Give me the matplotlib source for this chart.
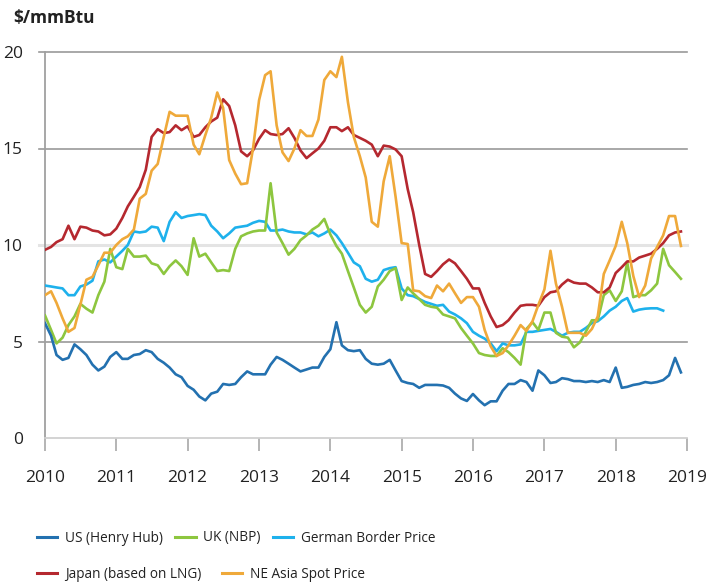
import numpy as np
import pandas as pd
import matplotlib as mpl
mpl.use("Agg")
import matplotlib.pyplot as plt
import matplotlib.dates as mdates
from matplotlib.lines import Line2D

mpl.rcParams['font.family'] = ['Open Sans', 'DejaVu Sans']

# monthly, Jan 2010 - Dec 2018, $/mmBtu
months = pd.date_range("2010-01-01", periods=108, freq="MS")

us_henry_hub = [
    5.95, 5.3, 4.3, 4.05, 4.15, 4.85, 4.6, 4.3, 3.8, 3.5, 3.7, 4.2,
    4.45, 4.1, 4.1, 4.3, 4.35, 4.55, 4.45, 4.1, 3.9, 3.65, 3.3, 3.15,
    2.7, 2.5, 2.15, 1.95, 2.3, 2.4, 2.8, 2.75, 2.8, 3.15, 3.45, 3.3,
    3.3, 3.3, 3.8, 4.2, 4.05, 3.85, 3.65, 3.45, 3.55, 3.65, 3.65, 4.2,
    4.6, 6.0, 4.8, 4.55, 4.5, 4.55, 4.1, 3.85, 3.8, 3.85, 4.05, 3.5,
    2.95, 2.85, 2.8, 2.6, 2.75, 2.75, 2.75, 2.72, 2.6, 2.3, 2.05, 1.92,
    2.28, 1.95, 1.7, 1.9, 1.9, 2.45, 2.8, 2.8, 3.0, 2.9, 2.45, 3.5,
    3.25, 2.85, 2.9, 3.1, 3.05, 2.95, 2.95, 2.9, 2.95, 2.9, 3.0, 2.9,
    3.65, 2.6, 2.65, 2.75, 2.8, 2.9, 2.85, 2.9, 3.0, 3.25, 4.15, 3.4,
]

uk_nbp = [
    6.35, 5.6, 4.9, 5.2, 5.85, 6.3, 6.95, 6.7, 6.5, 7.4, 8.1, 9.8,
    8.85, 8.75, 9.8, 9.4, 9.4, 9.45, 9.05, 8.95, 8.5, 8.9, 9.2, 8.9,
    8.45, 10.35, 9.4, 9.55, 9.1, 8.65, 8.7, 8.65, 9.8, 10.45, 10.6, 10.7,
    10.75, 10.75, 13.2, 10.65, 10.1, 9.5, 9.8, 10.25, 10.5, 10.8, 11.0, 11.35,
    10.55, 9.95, 9.55, 8.65, 7.8, 6.9, 6.5, 6.8, 7.85, 8.2, 8.65, 8.8,
    7.15, 7.8, 7.5, 7.2, 6.9, 6.8, 6.75, 6.4, 6.3, 6.2, 5.7, 5.3,
    4.9, 4.4, 4.3, 4.25, 4.25, 4.65, 4.45, 4.15, 3.8, 5.65, 6.0, 5.6,
    6.5, 6.5, 5.45, 5.25, 5.2, 4.7, 4.95, 5.5, 6.1, 6.1, 7.4, 7.65,
    7.1, 7.6, 9.1, 7.3, 7.4, 7.4, 7.65, 8.0, 9.8, 8.95, 8.6, 8.25,
]

german_border = [
    7.9, 7.85, 7.8, 7.75, 7.4, 7.4, 7.85, 7.95, 8.15, 9.15, 9.25, 9.1,
    9.4, 9.7, 10.0, 10.7, 10.65, 10.7, 10.95, 10.9, 10.2, 11.2, 11.7, 11.4,
    11.5, 11.55, 11.6, 11.55, 11.0, 10.7, 10.35, 10.6, 10.9, 10.95, 11.0, 11.15,
    11.25, 11.2, 10.75, 10.75, 10.8, 10.7, 10.65, 10.65, 10.55, 10.65, 10.45, 10.6,
    10.8, 10.5, 10.1, 9.6, 9.1, 8.9, 8.25, 8.1, 8.2, 8.7, 8.8, 8.85,
    7.75, 7.4, 7.35, 7.2, 7.05, 6.95, 6.85, 6.9, 6.55, 6.4, 6.2, 5.95,
    5.5, 5.3, 5.15, 4.9, 4.5, 4.9, 4.8, 4.8, 4.85, 5.5, 5.5, 5.55,
    5.6, 5.65, 5.5, 5.3, 5.45, 5.5, 5.5, 5.7, 5.95, 6.05, 6.3, 6.6,
    6.8, 7.1, 7.25, 6.55, 6.65, 6.7, 6.72, 6.72, 6.6, np.nan, np.nan, np.nan,
]

japan_lng = [
    9.75, 9.9, 10.15, 10.3, 11.0, 10.3, 10.95, 10.9, 10.75, 10.7, 10.5, 10.55,
    10.85, 11.4, 12.0, 12.5, 13.0, 13.9, 15.6, 16.0, 15.8, 15.85, 16.2, 15.95,
    16.15, 15.6, 15.7, 16.1, 16.4, 16.6, 17.55, 17.2, 16.2, 14.85, 14.6, 14.9,
    15.5, 15.95, 15.75, 15.7, 15.75, 16.05, 15.55, 14.9, 14.5, 14.75, 15.0, 15.4,
    16.1, 16.1, 15.9, 16.1, 15.7, 15.55, 15.4, 15.2, 14.6, 15.15, 15.1, 14.95,
    14.6, 12.9, 11.7, 10.0, 8.5, 8.35, 8.65, 9.0, 9.25, 9.05, 8.65, 8.25,
    7.75, 7.75, 7.0, 6.3, 5.75, 5.85, 6.1, 6.5, 6.85, 6.9, 6.9, 6.85,
    7.3, 7.55, 7.6, 7.95, 8.2, 8.05, 8.0, 8.0, 7.8, 7.55, 7.55, 7.8,
    8.55, 8.85, 9.15, 9.15, 9.35, 9.45, 9.55, 9.8, 10.1, 10.5, 10.65, 10.7,
]

ne_asia_spot = [
    7.4, 7.6, 7.0, 6.2, 5.5, 5.7, 6.9, 8.2, 8.35, 8.95, 9.6, 9.6,
    10.0, 10.3, 10.45, 10.8, 12.4, 12.65, 13.85, 14.2, 15.6, 16.9, 16.7, 16.7,
    16.7, 15.2, 14.7, 15.7, 16.6, 17.9, 17.1, 14.4, 13.7, 13.15, 13.2, 15.0,
    17.5, 18.8, 19.0, 16.2, 14.8, 14.35, 15.0, 15.95, 15.65, 15.65, 16.5, 18.55,
    19.0, 18.7, 19.75, 17.4, 15.6, 14.6, 13.5, 11.2, 10.95, 13.3, 14.6, 12.5,
    10.1, 10.05, 7.65, 7.6, 7.35, 7.25, 7.9, 7.6, 8.0, 7.5, 7.0, 7.3,
    7.3, 6.8, 5.6, 4.75, 4.25, 4.4, 4.8, 5.3, 5.85, 5.55, 6.05, 6.9,
    7.7, 9.7, 8.0, 6.8, 5.45, 5.45, 5.45, 5.3, 5.65, 6.3, 8.5, 9.2,
    9.95, 11.2, 10.1, 8.4, 7.3, 7.9, 9.3, 9.9, 10.5, 11.5, 11.5, 9.95,
]

series = [
    ("US (Henry Hub)", us_henry_hub, "#2371b0"),
    ("UK (NBP)", uk_nbp, "#8dc63f"),
    ("German Border Price", german_border, "#1eb1ec"),
    ("Japan (based on LNG)", japan_lng, "#b5282f"),
    ("NE Asia Spot Price", ne_asia_spot, "#efa93a"),
]
lookup = {name: (vals, col) for name, vals, col in series}

fig = plt.figure(figsize=(7.11, 5.85), dpi=100)
ax = fig.add_axes([45 / 711, 1 - 438 / 585, 642 / 711, 386 / 585])

# gridlines (the 10 line is lighter in the original)
for yv, col, lw in [(5, "#9a9a9a", 1.2), (10, "#e4e4e4", 2.2), (15, "#9a9a9a", 1.2), (20, "#9a9a9a", 1.2)]:
    ax.axhline(yv, xmin=-0.009, xmax=1, color=col, lw=lw, zorder=1, clip_on=False)

for name in ["German Border Price", "UK (NBP)", "US (Henry Hub)", "Japan (based on LNG)", "NE Asia Spot Price"]:
    vals, col = lookup[name]
    ax.plot(months, vals, color=col, lw=1.9, zorder=3, solid_joinstyle="round")

ax.set_xlim(pd.Timestamp("2010-01-01"), pd.Timestamp("2019-01-01"))
ax.set_ylim(0, 20)
ax.xaxis.set_major_locator(mdates.YearLocator())
ax.xaxis.set_major_formatter(mdates.DateFormatter("%Y"))
ax.set_yticks([0, 5, 10, 15, 20])

for s in ["top", "right"]:
    ax.spines[s].set_visible(False)
ax.spines["left"].set_color("#a0a0a0")
ax.spines["left"].set_linewidth(1.3)
ax.spines["bottom"].set_color("#d0d0d0")
ax.spines["bottom"].set_linewidth(1.3)

ax.tick_params(axis="x", length=9, width=1.1, color="#a0a0a0", pad=14,
               labelsize=12.5, labelcolor="#222222")
ax.tick_params(axis="y", length=0, pad=16, labelsize=12.5, labelcolor="#222222")

fig.text(13 / 711, 1 - 18 / 585, "$/mmBtu", fontsize=12.5, fontweight="bold",
         color="#222222", va="center", ha="left")

# legend, two rows
def handles(names):
    return [Line2D([], [], color=lookup[n][1], lw=2.2) for n in names]

row1 = ["US (Henry Hub)", "UK (NBP)", "German Border Price"]
row2 = ["Japan (based on LNG)", "NE Asia Spot Price"]
kw = dict(frameon=False, fontsize=9.8, handlelength=1.5, handletextpad=0.55,
          columnspacing=0.9, borderaxespad=0, borderpad=0, labelcolor="#222222")
fig.legend(handles(row1), row1, ncol=3, loc="center left",
           bbox_to_anchor=(37 / 711, 1 - 538 / 585), **kw)
fig.legend(handles(row2), row2, ncol=2, loc="center left",
           bbox_to_anchor=(37 / 711, 1 - 574 / 585), **dict(kw, columnspacing=1.5))

fig.savefig("out.png", dpi=100)
